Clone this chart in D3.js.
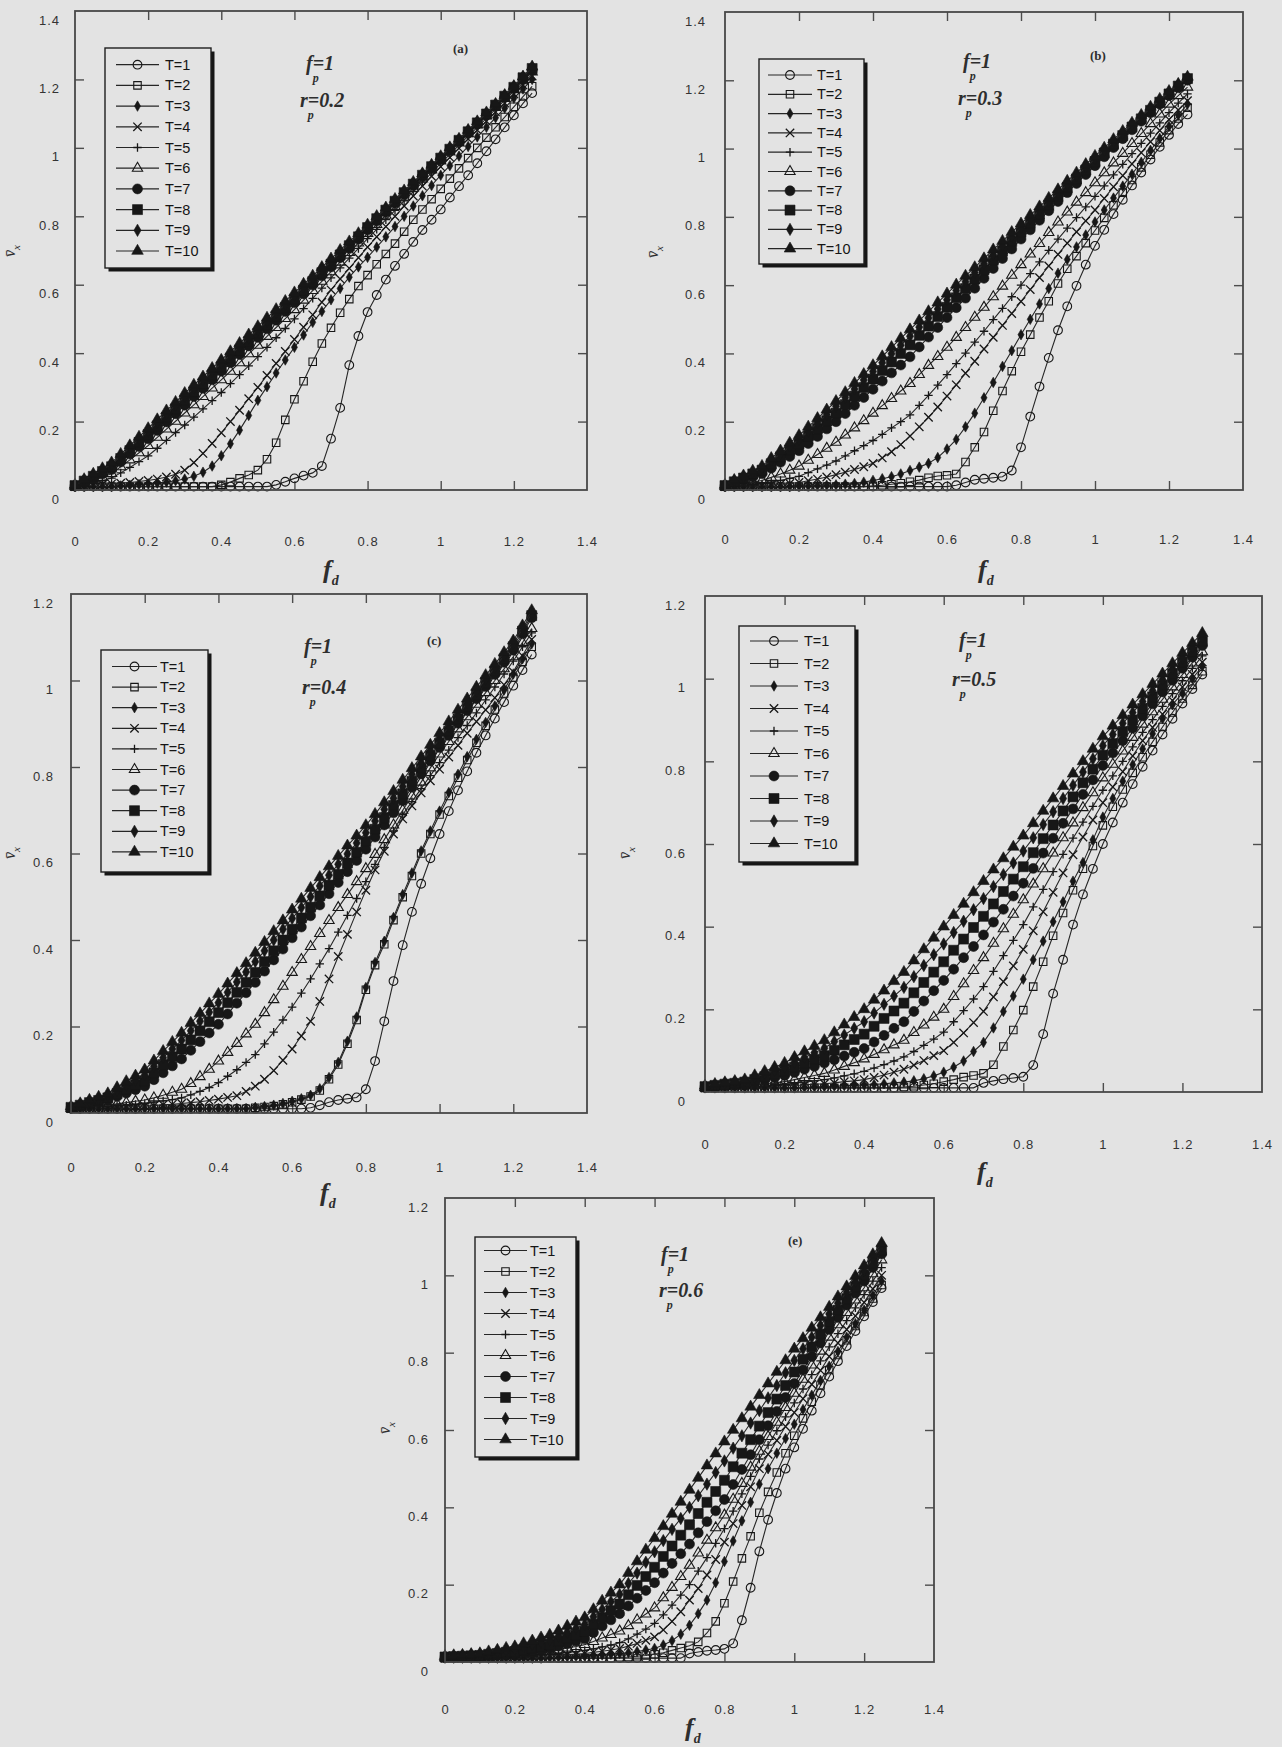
<!DOCTYPE html>
<html>
<head>
<meta charset="utf-8">
<script src="https://cdn.jsdelivr.net/npm/d3@7"></script>
<style>
  body { margin: 0; background: #e3e3e3; }
  svg { display: block; }
</style>
</head>
<body>
<svg id="fig" width="1282" height="1747"></svg>
<script>
// driving force f_d (same grid for every curve)
const fd = [0,0.025,0.05,0.075,0.1,0.125,0.15,0.175,0.2,0.225,0.25,0.275,0.3,0.325,0.35,0.375,0.4,0.425,0.45,0.475,
  0.5,0.525,0.55,0.575,0.6,0.625,0.65,0.675,0.7,0.725,0.75,0.775,0.8,0.825,0.85,0.875,0.9,0.925,0.95,0.975,
  1,1.025,1.05,1.075,1.1,1.125,1.15,1.175,1.2,1.225,1.25];

const xTicks = [0,0.2,0.4,0.6,0.8,1,1.2,1.4];
const xTickLabels = ["0","0.2","0.4","0.6","0.8","1","1.2","1.4"];
const yTicks14 = [0,0.2,0.4,0.6,0.8,1,1.2,1.4];
const yTickLabels14 = ["0","0.2","0.4","0.6","0.8","1","1.2","1.4"];
const yTicks12 = [0,0.2,0.4,0.6,0.8,1,1.2];
const yTickLabels12 = ["0","0.2","0.4","0.6","0.8","1","1.2"];
const tempLabels = ["T=1","T=2","T=3","T=4","T=5","T=6","T=7","T=8","T=9","T=10"];
const rpValues = ["0.2","0.3","0.4","0.5","0.6"];
const panelTags = ["(a)","(b)","(c)","","(e)"];

// mean velocity v_x, one row per temperature T=1..10
const vxA = [
 [0.01,0.01,0.01,0.01,0.01,0.01,0.01,0.01,0.01,0.01,0.01,0.01,0.01,0.01,0.01,0.01,0.01,0.01,0.01,0.01,0.01,0.01,0.015,0.024,0.034,0.042,0.05,0.07,0.15,0.24,0.365,0.45,0.52,0.57,0.615,0.655,0.69,0.725,0.76,0.79,0.82,0.855,0.888,0.92,0.955,0.99,1.025,1.06,1.095,1.13,1.16],
 [0.01,0.01,0.01,0.01,0.01,0.01,0.01,0.01,0.01,0.01,0.01,0.01,0.01,0.01,0.01,0.01,0.015,0.023,0.034,0.044,0.058,0.09,0.138,0.205,0.265,0.318,0.375,0.428,0.474,0.518,0.558,0.596,0.628,0.66,0.69,0.72,0.755,0.79,0.82,0.85,0.88,0.91,0.94,0.97,1.0,1.03,1.06,1.09,1.12,1.15,1.18],
 [0.01,0.01,0.01,0.01,0.01,0.012,0.014,0.016,0.018,0.02,0.023,0.027,0.032,0.04,0.052,0.07,0.1,0.135,0.175,0.218,0.262,0.302,0.342,0.38,0.417,0.453,0.49,0.522,0.556,0.589,0.622,0.652,0.68,0.71,0.74,0.77,0.8,0.83,0.86,0.89,0.92,0.948,0.976,1.004,1.032,1.06,1.088,1.116,1.145,1.172,1.2],
 [0.01,0.012,0.014,0.016,0.018,0.02,0.022,0.025,0.028,0.032,0.038,0.046,0.058,0.08,0.107,0.136,0.167,0.2,0.233,0.267,0.3,0.335,0.37,0.405,0.44,0.476,0.512,0.549,0.585,0.617,0.648,0.679,0.71,0.74,0.77,0.8,0.83,0.859,0.888,0.917,0.945,0.972,0.999,1.026,1.052,1.078,1.105,1.131,1.158,1.184,1.21],
 [0.01,0.015,0.02,0.027,0.035,0.05,0.066,0.083,0.1,0.122,0.145,0.168,0.19,0.213,0.237,0.261,0.285,0.311,0.337,0.363,0.39,0.417,0.445,0.472,0.5,0.53,0.56,0.59,0.62,0.649,0.678,0.706,0.735,0.762,0.79,0.817,0.845,0.872,0.9,0.927,0.955,0.981,1.008,1.034,1.06,1.086,1.113,1.139,1.165,1.19,1.215],
 [0.011,0.018,0.027,0.037,0.048,0.068,0.088,0.109,0.13,0.154,0.178,0.201,0.225,0.249,0.273,0.298,0.322,0.347,0.372,0.398,0.423,0.449,0.475,0.501,0.527,0.555,0.583,0.61,0.638,0.666,0.694,0.722,0.75,0.776,0.803,0.829,0.856,0.882,0.909,0.935,0.962,0.988,1.014,1.041,1.067,1.093,1.118,1.144,1.17,1.196,1.222],
 [0.012,0.022,0.034,0.047,0.06,0.082,0.105,0.127,0.15,0.174,0.199,0.223,0.248,0.273,0.297,0.322,0.347,0.372,0.396,0.421,0.446,0.471,0.496,0.522,0.547,0.573,0.599,0.626,0.652,0.679,0.706,0.733,0.76,0.786,0.812,0.838,0.864,0.89,0.916,0.941,0.967,0.993,1.019,1.044,1.07,1.096,1.122,1.148,1.174,1.201,1.228],
 [0.013,0.026,0.04,0.054,0.068,0.092,0.115,0.139,0.162,0.187,0.212,0.237,0.262,0.287,0.311,0.336,0.36,0.385,0.409,0.434,0.458,0.483,0.508,0.533,0.558,0.584,0.609,0.635,0.66,0.687,0.714,0.74,0.767,0.793,0.818,0.844,0.869,0.894,0.92,0.945,0.97,0.996,1.022,1.047,1.073,1.099,1.125,1.151,1.177,1.205,1.232],
 [0.014,0.029,0.044,0.06,0.075,0.099,0.124,0.148,0.172,0.197,0.223,0.248,0.273,0.297,0.322,0.346,0.37,0.395,0.419,0.444,0.468,0.493,0.518,0.543,0.568,0.593,0.618,0.643,0.668,0.694,0.72,0.746,0.772,0.797,0.822,0.847,0.872,0.897,0.923,0.948,0.973,0.999,1.024,1.05,1.075,1.101,1.127,1.153,1.179,1.207,1.234],
 [0.015,0.031,0.047,0.063,0.08,0.105,0.13,0.155,0.18,0.206,0.232,0.257,0.283,0.307,0.331,0.356,0.38,0.405,0.429,0.454,0.478,0.503,0.528,0.552,0.577,0.602,0.626,0.651,0.676,0.701,0.726,0.75,0.775,0.8,0.825,0.85,0.875,0.9,0.925,0.95,0.975,1.001,1.026,1.052,1.077,1.103,1.128,1.154,1.18,1.208,1.237]
];

const vxB = [
 [0.01,0.01,0.01,0.01,0.01,0.01,0.01,0.01,0.01,0.01,0.01,0.01,0.01,0.01,0.01,0.01,0.01,0.01,0.01,0.01,0.01,0.01,0.01,0.01,0.01,0.014,0.022,0.03,0.033,0.036,0.039,0.057,0.125,0.215,0.303,0.387,0.468,0.538,0.598,0.66,0.715,0.762,0.808,0.85,0.892,0.93,0.968,1.005,1.04,1.072,1.1],
 [0.01,0.01,0.01,0.01,0.01,0.01,0.01,0.01,0.01,0.01,0.01,0.01,0.01,0.01,0.01,0.01,0.012,0.014,0.017,0.02,0.024,0.029,0.036,0.041,0.043,0.047,0.082,0.125,0.17,0.232,0.29,0.348,0.405,0.455,0.505,0.553,0.605,0.648,0.685,0.723,0.76,0.797,0.834,0.871,0.908,0.945,0.982,1.018,1.054,1.088,1.12],
 [0.01,0.01,0.01,0.01,0.01,0.01,0.01,0.01,0.011,0.012,0.013,0.014,0.015,0.017,0.019,0.023,0.028,0.033,0.039,0.047,0.057,0.067,0.078,0.095,0.12,0.148,0.185,0.225,0.27,0.315,0.362,0.408,0.455,0.5,0.545,0.59,0.635,0.675,0.712,0.747,0.785,0.82,0.855,0.89,0.925,0.96,0.995,1.03,1.065,1.098,1.13],
 [0.01,0.011,0.012,0.012,0.013,0.015,0.017,0.019,0.022,0.027,0.032,0.038,0.045,0.052,0.06,0.068,0.078,0.094,0.112,0.133,0.158,0.185,0.213,0.243,0.275,0.308,0.342,0.377,0.413,0.447,0.482,0.517,0.552,0.587,0.622,0.656,0.69,0.723,0.756,0.788,0.82,0.854,0.888,0.921,0.955,0.988,1.02,1.053,1.085,1.113,1.14],
 [0.01,0.012,0.014,0.016,0.018,0.023,0.028,0.034,0.04,0.051,0.062,0.073,0.085,0.1,0.115,0.13,0.145,0.163,0.182,0.2,0.22,0.248,0.277,0.307,0.338,0.37,0.401,0.433,0.465,0.499,0.532,0.566,0.6,0.634,0.668,0.702,0.735,0.767,0.798,0.829,0.86,0.891,0.923,0.954,0.985,1.015,1.045,1.075,1.105,1.133,1.16],
 [0.011,0.014,0.018,0.023,0.028,0.037,0.047,0.058,0.07,0.087,0.104,0.122,0.14,0.161,0.182,0.203,0.225,0.247,0.268,0.29,0.312,0.338,0.365,0.391,0.418,0.447,0.476,0.506,0.535,0.566,0.597,0.629,0.66,0.691,0.722,0.754,0.785,0.814,0.843,0.871,0.9,0.929,0.958,0.986,1.015,1.044,1.073,1.101,1.13,1.155,1.18],
 [0.012,0.02,0.029,0.038,0.048,0.064,0.081,0.098,0.115,0.136,0.157,0.179,0.2,0.224,0.248,0.271,0.295,0.319,0.343,0.366,0.39,0.419,0.448,0.476,0.505,0.534,0.562,0.591,0.62,0.649,0.678,0.706,0.735,0.762,0.79,0.818,0.845,0.871,0.898,0.924,0.95,0.976,1.003,1.029,1.055,1.08,1.105,1.13,1.155,1.178,1.2],
 [0.013,0.024,0.035,0.047,0.058,0.077,0.097,0.116,0.135,0.158,0.18,0.203,0.225,0.25,0.275,0.3,0.325,0.35,0.375,0.4,0.425,0.453,0.48,0.508,0.535,0.563,0.59,0.618,0.645,0.673,0.7,0.728,0.755,0.781,0.808,0.834,0.86,0.886,0.911,0.937,0.962,0.987,1.013,1.038,1.063,1.087,1.112,1.136,1.16,1.183,1.205],
 [0.014,0.027,0.039,0.052,0.065,0.086,0.106,0.127,0.148,0.172,0.197,0.221,0.245,0.271,0.296,0.322,0.347,0.373,0.399,0.424,0.45,0.477,0.504,0.53,0.557,0.584,0.61,0.637,0.663,0.689,0.716,0.742,0.768,0.794,0.819,0.845,0.87,0.895,0.92,0.945,0.97,0.995,1.02,1.045,1.07,1.094,1.118,1.141,1.165,1.187,1.208],
 [0.015,0.029,0.042,0.056,0.07,0.093,0.115,0.138,0.16,0.185,0.21,0.235,0.26,0.286,0.313,0.339,0.365,0.391,0.418,0.444,0.47,0.496,0.523,0.549,0.575,0.601,0.627,0.652,0.678,0.704,0.729,0.755,0.78,0.805,0.83,0.855,0.88,0.905,0.929,0.954,0.978,1.002,1.027,1.051,1.075,1.098,1.122,1.145,1.168,1.189,1.21]
];

const vxC = [
 [0.01,0.01,0.01,0.01,0.01,0.01,0.01,0.01,0.01,0.01,0.01,0.01,0.01,0.01,0.01,0.01,0.01,0.01,0.01,0.01,0.01,0.01,0.01,0.01,0.01,0.01,0.012,0.018,0.025,0.03,0.033,0.036,0.055,0.12,0.212,0.305,0.388,0.465,0.53,0.589,0.645,0.698,0.746,0.79,0.833,0.873,0.912,0.95,0.988,1.024,1.06],
 [0.01,0.01,0.01,0.01,0.01,0.01,0.01,0.01,0.01,0.01,0.01,0.01,0.01,0.01,0.01,0.01,0.01,0.01,0.01,0.01,0.012,0.014,0.016,0.02,0.025,0.031,0.038,0.052,0.078,0.112,0.16,0.215,0.285,0.342,0.39,0.446,0.499,0.548,0.6,0.645,0.69,0.733,0.775,0.816,0.856,0.895,0.933,0.97,1.007,1.043,1.078],
 [0.01,0.01,0.01,0.01,0.01,0.01,0.01,0.01,0.01,0.01,0.01,0.01,0.01,0.01,0.01,0.01,0.01,0.01,0.01,0.01,0.013,0.015,0.018,0.022,0.027,0.033,0.041,0.056,0.082,0.117,0.166,0.222,0.29,0.348,0.397,0.452,0.505,0.555,0.606,0.652,0.698,0.741,0.783,0.824,0.864,0.903,0.941,0.978,1.015,1.05,1.085],
 [0.01,0.01,0.011,0.011,0.012,0.013,0.014,0.015,0.016,0.017,0.019,0.02,0.022,0.024,0.026,0.029,0.032,0.036,0.04,0.05,0.062,0.078,0.098,0.122,0.148,0.178,0.212,0.258,0.31,0.362,0.413,0.465,0.515,0.562,0.605,0.645,0.68,0.71,0.74,0.768,0.795,0.823,0.85,0.878,0.905,0.932,0.96,0.99,1.02,1.057,1.095],
 [0.01,0.011,0.012,0.014,0.015,0.017,0.018,0.02,0.022,0.025,0.028,0.031,0.035,0.042,0.05,0.059,0.07,0.085,0.1,0.117,0.135,0.16,0.187,0.215,0.245,0.277,0.31,0.345,0.38,0.418,0.457,0.496,0.535,0.575,0.614,0.652,0.69,0.72,0.75,0.78,0.81,0.839,0.868,0.896,0.925,0.955,0.985,1.015,1.045,1.078,1.11],
 [0.011,0.012,0.014,0.016,0.018,0.021,0.024,0.027,0.03,0.035,0.041,0.048,0.055,0.068,0.084,0.101,0.12,0.14,0.161,0.183,0.205,0.232,0.262,0.293,0.325,0.355,0.385,0.415,0.445,0.475,0.505,0.535,0.565,0.598,0.632,0.666,0.7,0.733,0.765,0.798,0.83,0.859,0.888,0.916,0.945,0.972,1.0,1.027,1.055,1.088,1.12],
 [0.012,0.016,0.021,0.025,0.03,0.038,0.046,0.054,0.062,0.077,0.093,0.109,0.125,0.145,0.165,0.185,0.205,0.229,0.254,0.278,0.302,0.328,0.354,0.379,0.405,0.43,0.456,0.481,0.507,0.533,0.558,0.584,0.61,0.638,0.666,0.694,0.722,0.753,0.784,0.814,0.845,0.873,0.901,0.93,0.958,0.986,1.014,1.042,1.07,1.108,1.145],
 [0.013,0.018,0.024,0.029,0.035,0.045,0.055,0.065,0.075,0.093,0.112,0.13,0.148,0.169,0.19,0.211,0.232,0.255,0.279,0.302,0.325,0.35,0.375,0.4,0.425,0.451,0.476,0.502,0.527,0.552,0.578,0.603,0.628,0.656,0.683,0.711,0.738,0.767,0.797,0.826,0.855,0.883,0.911,0.939,0.967,0.995,1.022,1.05,1.078,1.114,1.15],
 [0.014,0.02,0.027,0.033,0.04,0.052,0.064,0.076,0.088,0.108,0.128,0.148,0.168,0.19,0.212,0.233,0.255,0.279,0.303,0.326,0.35,0.375,0.4,0.425,0.45,0.475,0.5,0.525,0.55,0.575,0.599,0.624,0.648,0.675,0.702,0.728,0.755,0.783,0.81,0.838,0.865,0.893,0.92,0.948,0.975,1.003,1.03,1.058,1.085,1.12,1.155],
 [0.015,0.022,0.03,0.037,0.045,0.059,0.073,0.086,0.1,0.121,0.143,0.164,0.185,0.208,0.23,0.253,0.275,0.299,0.323,0.346,0.37,0.395,0.42,0.445,0.47,0.495,0.52,0.545,0.57,0.594,0.618,0.641,0.665,0.691,0.718,0.744,0.77,0.797,0.824,0.851,0.878,0.905,0.932,0.958,0.985,1.012,1.038,1.065,1.092,1.127,1.162]
];

const vxD = [
 [0.01,0.01,0.01,0.01,0.01,0.01,0.01,0.01,0.01,0.01,0.01,0.01,0.01,0.01,0.01,0.01,0.01,0.01,0.01,0.01,0.01,0.01,0.01,0.01,0.01,0.01,0.01,0.01,0.022,0.027,0.031,0.034,0.037,0.065,0.14,0.238,0.32,0.405,0.478,0.54,0.6,0.652,0.7,0.745,0.787,0.826,0.865,0.903,0.94,0.975,1.01],
 [0.01,0.01,0.01,0.01,0.01,0.01,0.01,0.01,0.01,0.01,0.01,0.01,0.01,0.01,0.01,0.01,0.01,0.01,0.01,0.01,0.012,0.014,0.017,0.02,0.025,0.03,0.036,0.04,0.045,0.066,0.11,0.15,0.198,0.255,0.315,0.378,0.433,0.488,0.54,0.595,0.645,0.69,0.732,0.772,0.81,0.847,0.883,0.918,0.952,0.985,1.018],
 [0.01,0.01,0.01,0.01,0.01,0.01,0.01,0.01,0.01,0.01,0.011,0.012,0.013,0.014,0.015,0.016,0.017,0.018,0.02,0.022,0.024,0.027,0.032,0.039,0.048,0.06,0.075,0.098,0.12,0.155,0.195,0.232,0.273,0.32,0.365,0.412,0.46,0.51,0.555,0.61,0.665,0.71,0.752,0.792,0.83,0.867,0.903,0.937,0.965,1.0,1.03],
 [0.01,0.01,0.011,0.011,0.012,0.013,0.013,0.014,0.015,0.016,0.017,0.019,0.02,0.022,0.025,0.027,0.03,0.035,0.041,0.048,0.055,0.065,0.076,0.088,0.1,0.12,0.143,0.168,0.195,0.23,0.267,0.305,0.345,0.39,0.436,0.483,0.53,0.574,0.617,0.658,0.7,0.738,0.775,0.813,0.85,0.882,0.914,0.947,0.98,1.01,1.04],
 [0.01,0.011,0.011,0.012,0.013,0.014,0.015,0.017,0.018,0.021,0.024,0.027,0.03,0.034,0.039,0.044,0.05,0.058,0.066,0.075,0.085,0.098,0.113,0.128,0.145,0.17,0.197,0.225,0.255,0.292,0.33,0.367,0.405,0.448,0.49,0.533,0.575,0.614,0.653,0.691,0.73,0.765,0.8,0.835,0.87,0.901,0.933,0.964,0.995,1.025,1.055],
 [0.011,0.012,0.013,0.014,0.015,0.017,0.02,0.022,0.025,0.03,0.035,0.04,0.045,0.053,0.062,0.071,0.08,0.091,0.102,0.114,0.125,0.144,0.162,0.181,0.2,0.231,0.262,0.294,0.325,0.36,0.395,0.43,0.465,0.503,0.54,0.578,0.615,0.651,0.688,0.724,0.76,0.793,0.825,0.858,0.89,0.92,0.95,0.98,1.01,1.038,1.065],
 [0.012,0.014,0.016,0.018,0.02,0.025,0.03,0.035,0.04,0.047,0.055,0.062,0.07,0.078,0.087,0.096,0.105,0.121,0.137,0.154,0.17,0.195,0.22,0.245,0.27,0.297,0.325,0.352,0.38,0.411,0.442,0.474,0.505,0.541,0.578,0.614,0.65,0.685,0.72,0.755,0.79,0.82,0.85,0.88,0.91,0.939,0.968,0.996,1.025,1.052,1.08],
 [0.013,0.016,0.019,0.021,0.024,0.03,0.037,0.043,0.05,0.06,0.069,0.079,0.088,0.101,0.114,0.127,0.14,0.159,0.178,0.196,0.215,0.24,0.265,0.29,0.315,0.343,0.37,0.398,0.425,0.455,0.485,0.515,0.545,0.579,0.613,0.646,0.68,0.714,0.748,0.781,0.815,0.843,0.872,0.9,0.928,0.956,0.984,1.012,1.04,1.065,1.09],
 [0.014,0.017,0.021,0.024,0.027,0.035,0.044,0.052,0.06,0.072,0.083,0.095,0.106,0.122,0.138,0.154,0.17,0.191,0.212,0.232,0.253,0.279,0.306,0.332,0.358,0.386,0.413,0.441,0.468,0.497,0.526,0.554,0.583,0.615,0.647,0.678,0.71,0.742,0.774,0.806,0.838,0.865,0.892,0.918,0.945,0.971,0.998,1.024,1.05,1.075,1.1],
 [0.015,0.019,0.023,0.026,0.03,0.04,0.05,0.06,0.07,0.084,0.098,0.111,0.125,0.144,0.163,0.181,0.2,0.223,0.245,0.268,0.29,0.318,0.345,0.373,0.4,0.428,0.455,0.483,0.51,0.538,0.565,0.593,0.62,0.65,0.68,0.71,0.74,0.77,0.8,0.83,0.86,0.886,0.911,0.937,0.962,0.987,1.012,1.037,1.062,1.086,1.11]
];

const vxE = [
 [0.01,0.01,0.01,0.01,0.01,0.01,0.01,0.01,0.01,0.01,0.01,0.01,0.01,0.01,0.01,0.01,0.01,0.01,0.01,0.01,0.01,0.01,0.01,0.01,0.01,0.01,0.01,0.01,0.022,0.026,0.029,0.031,0.034,0.048,0.108,0.192,0.286,0.368,0.437,0.5,0.555,0.603,0.65,0.695,0.738,0.778,0.817,0.856,0.894,0.931,0.967],
 [0.01,0.01,0.01,0.01,0.01,0.01,0.01,0.01,0.01,0.01,0.01,0.01,0.01,0.01,0.01,0.01,0.01,0.01,0.01,0.01,0.012,0.013,0.015,0.017,0.02,0.024,0.03,0.036,0.042,0.052,0.075,0.105,0.152,0.208,0.268,0.325,0.386,0.44,0.49,0.54,0.585,0.63,0.673,0.715,0.755,0.794,0.832,0.869,0.905,0.94,0.975],
 [0.01,0.01,0.01,0.01,0.01,0.01,0.01,0.01,0.01,0.01,0.01,0.01,0.011,0.012,0.013,0.014,0.015,0.016,0.018,0.02,0.022,0.024,0.027,0.031,0.035,0.044,0.055,0.072,0.095,0.125,0.16,0.205,0.26,0.313,0.365,0.413,0.46,0.5,0.54,0.578,0.615,0.653,0.69,0.728,0.765,0.803,0.84,0.875,0.91,0.948,0.985],
 [0.01,0.01,0.01,0.011,0.011,0.011,0.012,0.012,0.013,0.014,0.014,0.015,0.016,0.017,0.019,0.02,0.022,0.025,0.028,0.031,0.035,0.041,0.048,0.056,0.065,0.083,0.105,0.13,0.16,0.19,0.225,0.265,0.31,0.358,0.405,0.453,0.5,0.537,0.573,0.609,0.645,0.681,0.718,0.754,0.79,0.825,0.86,0.895,0.93,0.965,1.0],
 [0.01,0.01,0.011,0.011,0.012,0.013,0.013,0.014,0.015,0.016,0.017,0.019,0.02,0.022,0.025,0.027,0.03,0.034,0.039,0.044,0.05,0.06,0.072,0.085,0.1,0.122,0.147,0.173,0.2,0.235,0.27,0.307,0.345,0.39,0.435,0.48,0.525,0.561,0.598,0.634,0.67,0.706,0.743,0.779,0.815,0.849,0.883,0.916,0.95,0.985,1.02],
 [0.011,0.011,0.012,0.012,0.013,0.014,0.015,0.017,0.018,0.02,0.022,0.025,0.027,0.031,0.036,0.04,0.045,0.053,0.062,0.071,0.08,0.094,0.109,0.124,0.14,0.166,0.193,0.221,0.25,0.282,0.315,0.347,0.38,0.421,0.462,0.504,0.545,0.583,0.62,0.658,0.695,0.731,0.768,0.804,0.84,0.872,0.904,0.936,0.968,1.004,1.04],
 [0.012,0.013,0.013,0.014,0.015,0.017,0.018,0.02,0.022,0.025,0.029,0.032,0.035,0.041,0.047,0.054,0.06,0.076,0.093,0.109,0.125,0.145,0.165,0.185,0.205,0.23,0.255,0.28,0.305,0.334,0.363,0.391,0.42,0.459,0.498,0.536,0.575,0.611,0.648,0.684,0.72,0.755,0.79,0.825,0.86,0.891,0.923,0.954,0.985,1.02,1.055],
 [0.013,0.014,0.015,0.016,0.017,0.02,0.022,0.025,0.027,0.032,0.036,0.041,0.045,0.054,0.063,0.071,0.08,0.098,0.115,0.133,0.15,0.174,0.198,0.221,0.245,0.273,0.3,0.328,0.355,0.384,0.413,0.441,0.47,0.505,0.54,0.575,0.61,0.645,0.68,0.715,0.75,0.783,0.815,0.848,0.88,0.91,0.94,0.97,1.0,1.033,1.065],
 [0.014,0.016,0.017,0.019,0.02,0.023,0.027,0.03,0.033,0.039,0.045,0.051,0.057,0.067,0.077,0.087,0.097,0.117,0.136,0.156,0.175,0.203,0.23,0.258,0.285,0.314,0.343,0.371,0.4,0.43,0.46,0.49,0.52,0.553,0.585,0.618,0.65,0.683,0.715,0.748,0.78,0.81,0.84,0.87,0.9,0.928,0.956,0.984,1.012,1.044,1.075],
 [0.015,0.017,0.018,0.02,0.022,0.027,0.031,0.036,0.04,0.048,0.055,0.063,0.07,0.081,0.093,0.104,0.115,0.136,0.158,0.179,0.2,0.23,0.26,0.29,0.32,0.351,0.383,0.414,0.445,0.476,0.508,0.539,0.57,0.6,0.63,0.66,0.69,0.72,0.75,0.78,0.81,0.837,0.864,0.891,0.918,0.945,0.971,0.998,1.025,1.054,1.083]
];

// ---------- drawing ----------
const ink = "#171717";
const lineInk = "#262626";
const sans = "'Liberation Sans', Arial, sans-serif";
const serif = "'Liberation Serif', 'Times New Roman', serif";

const svg = d3.select("#fig");
svg.append("rect").attr("width", 1282).attr("height", 1747).attr("fill", "#e3e3e3");

const markers = [
  { d: d3.symbol(d3.symbolCircle, 60)(), fill: "none", sw: 1.1 },
  { d: d3.symbol(d3.symbolSquare, 56)(), fill: "none", sw: 1.1 },
  { d: d3.symbol(d3.symbolDiamond, 32)(), fill: ink, sw: 0.6 },
  { d: "M-4.2,-4.2L4.2,4.2M-4.2,4.2L4.2,-4.2", fill: "none", sw: 1.3 },
  { d: "M-4.2,0L4.2,0M0,-4.2L0,4.2", fill: "none", sw: 1.3 },
  { d: d3.symbol(d3.symbolTriangle, 46)(), fill: "none", sw: 1.1 },
  { d: d3.symbol(d3.symbolCircle, 78)(), fill: ink, sw: 0.6 },
  { d: d3.symbol(d3.symbolSquare, 100)(), fill: ink, sw: 0.6 },
  { d: d3.symbol(d3.symbolDiamond, 44)(), fill: ink, sw: 0.6 },
  { d: d3.symbol(d3.symbolTriangle, 58)(), fill: ink, sw: 0.6 }
];

const panels = [
  { v: vxA, ymax: 1.4, yt: yTicks14, ytl: yTickLabels14, x0: 75, x1: 587, yb: 490, ytop: 11,
    xPad: 47, yPad: 15, fp: [306, 70], rp: [300, 107], tag: [453, 53], xt: [323, 578], yl: [15, 251],
    leg: { x: 105, y: 48, w: 106, h: 220, r0: 64.7, step: 20.7, l0: 116, l1: 159, tx: 165 } },
  { v: vxB, ymax: 1.4, yt: yTicks14, ytl: yTickLabels14, x0: 725, x1: 1243, yb: 490, ytop: 12,
    xPad: 45, yPad: 19, fp: [963, 68], rp: [958, 105], tag: [1090, 60], xt: [978, 578], yl: [658, 252],
    leg: { x: 759, y: 59, w: 105, h: 205, r0: 75, step: 19.3, l0: 768, l1: 812, tx: 817 } },
  { v: vxC, ymax: 1.2, yt: yTicks12, ytl: yTickLabels12, x0: 71, x1: 587, yb: 1113, ytop: 594,
    xPad: 50, yPad: 17, fp: [304, 653], rp: [302, 694], tag: [427, 645], xt: [320, 1201], yl: [15, 853],
    leg: { x: 101, y: 650, w: 107, h: 222, r0: 666.5, step: 20.6, l0: 112, l1: 157, tx: 160 } },
  { v: vxD, ymax: 1.2, yt: yTicks12, ytl: yTickLabels12, x0: 705, x1: 1262, yb: 1092, ytop: 596,
    xPad: 48, yPad: 19, fp: [959, 647], rp: [952, 686], tag: [0, 0], xt: [977, 1180], yl: [630, 853],
    leg: { x: 739, y: 626, w: 116, h: 236, r0: 641, step: 22.5, l0: 750, l1: 798, tx: 804 } },
  { v: vxE, ymax: 1.2, yt: yTicks12, ytl: yTickLabels12, x0: 445, x1: 934, yb: 1662, ytop: 1198,
    xPad: 43, yPad: 16, fp: [661, 1261], rp: [659, 1297], tag: [788, 1245], xt: [685, 1736], yl: [390, 1428],
    leg: { x: 475, y: 1237, w: 101, h: 220, r0: 1250.5, step: 21, l0: 484, l1: 527, tx: 530 } }
];

function drawMarker(g, k, cx, cy) {
  const m = markers[k];
  g.append("path")
    .attr("d", m.d)
    .attr("transform", `translate(${cx},${cy})`)
    .attr("fill", m.fill)
    .attr("stroke", ink)
    .attr("stroke-width", m.sw);
}

panels.forEach((p, pi) => {
  const x = d3.scaleLinear().domain([0, 1.4]).range([p.x0, p.x1]);
  const y = d3.scaleLinear().domain([0, p.ymax]).range([p.yb, p.ytop]);
  const g = svg.append("g");

  // inner ticks on all four sides
  const inner = [
    [d3.axisBottom(x).tickValues(xTicks.slice(1, -1)), `translate(0,${p.ytop})`],
    [d3.axisTop(x).tickValues(xTicks.slice(1, -1)), `translate(0,${p.yb})`],
    [d3.axisRight(y).tickValues(p.yt.slice(1, -1)), `translate(${p.x0},0)`],
    [d3.axisLeft(y).tickValues(p.yt.slice(1, -1)), `translate(${p.x1},0)`]
  ];
  inner.forEach(([ax, tr]) => {
    const a = g.append("g").attr("transform", tr)
      .call(ax.tickSize(9).tickSizeOuter(0).tickFormat(""));
    a.select(".domain").remove();
    a.selectAll("line").attr("stroke", "#4d4d4d").attr("stroke-width", 1.4);
  });

  // tick labels
  const xl = g.append("g").attr("transform", `translate(0,${p.yb})`)
    .call(d3.axisBottom(x).tickValues(xTicks).tickSize(0).tickPadding(p.xPad)
      .tickFormat((d, i) => xTickLabels[i]));
  xl.select(".domain").remove();
  const yl = g.append("g").attr("transform", `translate(${p.x0},0)`)
    .call(d3.axisLeft(y).tickValues(p.yt).tickSize(0).tickPadding(p.yPad)
      .tickFormat((d, i) => p.ytl[i]));
  yl.select(".domain").remove();
  yl.selectAll("text").attr("dy", "1.0em");
  g.selectAll(".tick text")
    .attr("font-family", sans).attr("font-size", 13)
    .attr("letter-spacing", 1).attr("fill", "#333");

  // curves
  const line = d3.line().x((d, i) => x(fd[i])).y(d => y(d));
  p.v.forEach((row, k) => {
    g.append("path").attr("d", line(row))
      .attr("fill", "none").attr("stroke", lineInk).attr("stroke-width", 1.1);
    row.forEach((val, i) => drawMarker(g, k, x(fd[i]), y(val)));
  });

  // frame
  g.append("rect")
    .attr("x", p.x0).attr("y", p.ytop)
    .attr("width", p.x1 - p.x0).attr("height", p.yb - p.ytop)
    .attr("fill", "none").attr("stroke", "#474747").attr("stroke-width", 1.8);

  // legend
  const L = p.leg;
  g.append("rect").attr("x", L.x + 3.5).attr("y", L.y + 3.5).attr("width", L.w).attr("height", L.h)
    .attr("fill", "#161616");
  g.append("rect").attr("x", L.x).attr("y", L.y).attr("width", L.w).attr("height", L.h)
    .attr("fill", "#e3e3e3").attr("stroke", "#1e1e1e").attr("stroke-width", 1.4);
  tempLabels.forEach((t, k) => {
    const ry = L.r0 + k * L.step;
    g.append("line").attr("x1", L.l0).attr("x2", L.l1).attr("y1", ry).attr("y2", ry)
      .attr("stroke", lineInk).attr("stroke-width", 1.2);
    drawMarker(g, k, (L.l0 + L.l1) / 2, ry);
    g.append("text").attr("x", L.tx).attr("y", ry + 5)
      .attr("font-family", sans).attr("font-size", 14.5).attr("fill", "#151515").text(t);
  });

  // f_p = 1 and r_p annotation
  const ann = (pos, main, rest) => {
    const t = g.append("text").attr("x", pos[0]).attr("y", pos[1])
      .attr("font-family", serif).attr("font-style", "italic").attr("font-weight", "bold")
      .attr("font-size", 20).attr("fill", "#2e2e2e");
    t.append("tspan").text(main);
    t.append("tspan").attr("font-size", 12).attr("dy", 12).text("p");
    t.append("tspan").attr("dx", -6).attr("dy", -12).text(rest);
  };
  ann(p.fp, "f", "=1");
  ann(p.rp, "r", "=" + rpValues[pi]);

  if (panelTags[pi]) {
    g.append("text").attr("x", p.tag[0]).attr("y", p.tag[1])
      .attr("font-family", serif).attr("font-weight", "bold").attr("font-size", 13)
      .attr("fill", "#2e2e2e").text(panelTags[pi]);
  }

  // axis titles
  const xt = g.append("text").attr("x", p.xt[0]).attr("y", p.xt[1])
    .attr("font-family", serif).attr("font-style", "italic").attr("font-weight", "bold")
    .attr("font-size", 26).attr("fill", "#2e2e2e");
  xt.append("tspan").text("f");
  xt.append("tspan").attr("font-size", 14).attr("dy", 7).text("d");

  const ytitle = g.append("text")
    .attr("transform", `translate(${p.yl[0]},${p.yl[1]}) rotate(-90)`)
    .attr("text-anchor", "middle").attr("font-family", serif).attr("font-style", "italic")
    .attr("font-size", 16).attr("fill", "#2e2e2e");
  ytitle.append("tspan").text("v\u0304");
  ytitle.append("tspan").attr("font-size", 11).attr("dy", 5).text("x");
});
</script>
</body>
</html>
